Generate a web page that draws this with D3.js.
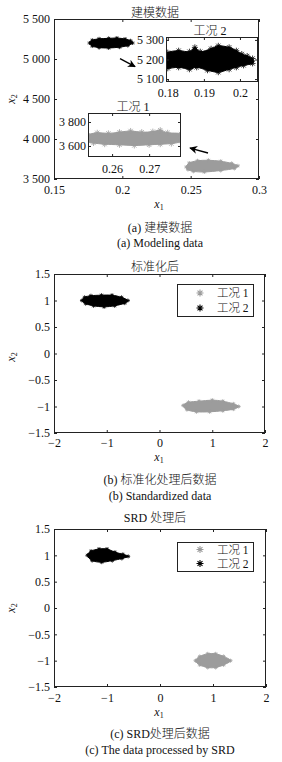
<!DOCTYPE html>
<html>
<head>
<meta charset="utf-8">
<script src="https://cdn.jsdelivr.net/npm/d3@7"></script>
<style>
  body { margin: 0; background: #fff; }
  text { font-family: "Liberation Serif", "Noto Sans CJK SC", serif; fill: #111; }
  .cjk { font-weight: 300; }
</style>
</head>
<body>
<script>
// tick values
var xTicksA = [0.15, 0.2, 0.25, 0.3];
var yTicksA = [3500, 4000, 4500, 5000, 5500];
var xTicksZoom2 = [0.18, 0.19, 0.2];
var yTicksZoom2 = [5100, 5200, 5300];
var xTicksZoom1 = [0.26, 0.27];
var yTicksZoom1 = [3600, 3800];
var xTicksStd = [-2, -1, 0, 1, 2];
var yTicksStd = [-1.5, -1, -0.5, 0, 0.5, 1, 1.5];

var legendLabels = ["工况 1", "工况 2"];

// cluster outlines [x1, x2]
var case2Raw = [[0.176, 5200], [0.178, 5235], [0.183, 5252], [0.19, 5258], [0.196, 5262], [0.202, 5250],
  [0.206, 5228], [0.2075, 5200], [0.204, 5168], [0.198, 5148], [0.19, 5138], [0.183, 5142], [0.178, 5162]];
var case1Raw = [[0.2468, 3650], [0.249, 3700], [0.255, 3728], [0.263, 3734], [0.272, 3722], [0.28, 3695],
  [0.2845, 3665], [0.282, 3632], [0.272, 3606], [0.26, 3588], [0.252, 3596], [0.248, 3618]];

var case2Zoom = [[0.1797, 5200], [0.180, 5235], [0.183, 5245], [0.186, 5240], [0.1875, 5262], [0.189, 5240],
  [0.192, 5255], [0.194, 5270], [0.197, 5262], [0.199, 5245], [0.2005, 5228], [0.202, 5218], [0.2035, 5205],
  [0.2035, 5180], [0.201, 5170], [0.199, 5160], [0.197, 5150], [0.194, 5135], [0.191, 5145], [0.188, 5160],
  [0.186, 5150], [0.183, 5160], [0.180, 5155], [0.1797, 5170]];
var case1Zoom = [[0.2535, 3690], [0.256, 3710], [0.259, 3705], [0.262, 3715], [0.265, 3725], [0.268, 3715],
  [0.271, 3720], [0.273, 3732], [0.275, 3710], [0.2786, 3700], [0.2786, 3640], [0.276, 3620], [0.273, 3615],
  [0.27, 3610], [0.266, 3604], [0.262, 3610], [0.258, 3615], [0.255, 3625], [0.2535, 3640]];

var case2Std = [[-1.47, 1.0], [-1.42, 1.06], [-1.3, 1.09], [-1.1, 1.1], [-0.9, 1.1], [-0.72, 1.06], [-0.6, 1.0],
  [-0.66, 0.95], [-0.85, 0.9], [-1.05, 0.88], [-1.25, 0.9], [-1.4, 0.94]];
var case1Std = [[0.45, -0.98], [0.55, -0.92], [0.75, -0.9], [1.0, -0.88], [1.2, -0.9], [1.4, -0.95], [1.5, -1.0],
  [1.4, -1.05], [1.2, -1.08], [0.95, -1.1], [0.7, -1.1], [0.52, -1.06]];

var case2Srd = [[-1.37, 1.0], [-1.3, 1.08], [-1.15, 1.12], [-1.0, 1.12], [-0.85, 1.06], [-0.7, 1.02], [-0.6, 0.98],
  [-0.72, 0.94], [-0.9, 0.9], [-1.1, 0.87], [-1.28, 0.9]];
var case1Srd = [[0.67, -1.0], [0.75, -0.92], [0.9, -0.87], [1.05, -0.87], [1.2, -0.92], [1.33, -1.0], [1.2, -1.08],
  [1.05, -1.13], [0.9, -1.13], [0.75, -1.08]];

// arrows in panel (a): [from, to]
var arrowsA = [[[0.1983, 5004], [0.2093, 4904]], [[0.2627, 3825], [0.2495, 3887]]];

var GRAY = "#9c9c9c";
var FONT = "'Liberation Serif', 'Noto Sans CJK SC', serif";

var svg = d3.select("body").append("svg")
    .attr("width", 282)
    .attr("height", 762);

svg.append("defs").append("marker")
    .attr("id", "head")
    .attr("viewBox", "0 0 10 10")
    .attr("refX", 9).attr("refY", 5)
    .attr("markerWidth", 8).attr("markerHeight", 8)
    .attr("markerUnits", "userSpaceOnUse")
    .attr("orient", "auto")
    .append("path")
    .attr("d", "M0,0 L10,5 L0,10 L3,5 Z")
    .attr("fill", "#000");

function asterisk(r) {
    var d = "";
    for (var i = 0; i < 4; i++) {
        var a = i * Math.PI / 4;
        var dx = r * Math.cos(a), dy = r * Math.sin(a);
        d += "M" + (-dx) + "," + (-dy) + "L" + dx + "," + dy;
    }
    return d;
}

var fmtK = function (d) { return d3.format(",")(d).replace(",", " "); };
var fmtN = d3.format("");

function axes(g, x, y, o) {
    g.append("g")
        .attr("transform", "translate(0," + o.bottom + ")")
        .call(d3.axisBottom(x).tickValues(o.xTicks).tickSizeInner(-3).tickSizeOuter(0)
            .tickPadding(o.xPad).tickFormat(fmtN));
    g.append("g")
        .attr("transform", "translate(0," + o.top + ")")
        .call(d3.axisTop(x).tickValues(o.xTicks).tickSizeInner(-3).tickSizeOuter(0).tickFormat(""));
    g.append("g")
        .attr("transform", "translate(" + o.left + ",0)")
        .call(d3.axisLeft(y).tickValues(o.yTicks).tickSizeInner(-3).tickSizeOuter(0)
            .tickPadding(o.yPad).tickFormat(o.yFmt || fmtN));
    g.append("g")
        .attr("transform", "translate(" + o.right + ",0)")
        .call(d3.axisRight(y).tickValues(o.yTicks).tickSizeInner(-3).tickSizeOuter(0).tickFormat(""));
    g.selectAll(".domain").remove();
    g.selectAll("g").attr("font-family", FONT).attr("font-size", 12);
    g.selectAll(".tick line").attr("stroke", "#222");
    g.selectAll(".tick text").attr("fill", "#111");
    g.append("rect")
        .attr("x", o.left + 0.5).attr("y", o.top + 0.5)
        .attr("width", o.right - o.left - 1).attr("height", o.bottom - o.top - 1)
        .attr("fill", "none").attr("stroke", "#222");
}

function cluster(g, pts, x, y, color, r) {
    g.append("path")
        .datum(pts)
        .attr("d", d3.line().x(function (d) { return x(d[0]); }).y(function (d) { return y(d[1]); })
            .curve(d3.curveCardinalClosed))
        .attr("fill", color)
        .attr("stroke", color)
        .attr("stroke-width", 1);
    g.selectAll(null)
        .data(pts)
        .enter()
        .append("path")
        .attr("transform", function (d) { return "translate(" + x(d[0]) + "," + y(d[1]) + ")"; })
        .attr("d", asterisk(r))
        .attr("stroke", color)
        .attr("stroke-width", 0.8);
}

function label(txt, xp, yp, anchor, cls) {
    return svg.append("text")
        .attr("x", xp).attr("y", yp)
        .attr("text-anchor", anchor || "middle")
        .attr("font-size", 12)
        .attr("class", cls || null)
        .text(txt);
}

function varLabel(xp, yp, sub, rotate) {
    var t = svg.append("text")
        .attr("font-size", 12)
        .attr("text-anchor", "middle")
        .attr("transform", "translate(" + xp + "," + yp + ")" + (rotate ? " rotate(-90)" : ""));
    t.append("tspan").attr("font-style", "italic").text("x");
    t.append("tspan").attr("font-size", 8).attr("dy", 2).text(sub);
}

var clipId = 0;
function panel(o) {
    var x = d3.scaleLinear().domain(o.xDom).range([o.left, o.right]);
    var y = d3.scaleLinear().domain(o.yDom).range([o.bottom, o.top]);
    var g = svg.append("g");
    var id = "clip" + (clipId++);
    svg.append("clipPath").attr("id", id).append("rect")
        .attr("x", o.left).attr("y", o.top)
        .attr("width", o.right - o.left).attr("height", o.bottom - o.top);
    if (o.bg) {
        g.append("rect").attr("x", o.left).attr("y", o.top)
            .attr("width", o.right - o.left).attr("height", o.bottom - o.top).attr("fill", "#fff");
    }
    var marks = g.append("g").attr("clip-path", "url(#" + id + ")");
    o.series.forEach(function (s) { cluster(marks, s.pts, x, y, s.color, s.r || 2.5); });
    axes(g, x, y, o);
    return {x: x, y: y, g: g};
}

function legend(left, top, w, h, rows) {
    svg.append("rect")
        .attr("x", left + 0.5).attr("y", top + 0.5)
        .attr("width", w).attr("height", h)
        .attr("fill", "#fff").attr("stroke", "#222");
    rows.forEach(function (r, i) {
        var cy = top + r.dy;
        svg.append("path")
            .attr("transform", "translate(" + (left + 23) + "," + cy + ")")
            .attr("d", asterisk(3.5))
            .attr("stroke", r.color).attr("stroke-width", 1.1);
        label(legendLabels[i], left + 40, cy + 4, "start", "cjk").attr("font-size", 11.5);
    });
}

// ---------- (a) modeling data ----------
var pa = panel({
    left: 54, right: 259, top: 19, bottom: 179,
    xDom: [0.15, 0.3], yDom: [3500, 5500],
    xTicks: xTicksA, yTicks: yTicksA, xPad: 6, yPad: 4, yFmt: fmtK,
    series: [{pts: case2Raw, color: "#000", r: 2}, {pts: case1Raw, color: GRAY, r: 2}]
});

arrowsA.forEach(function (a) {
    svg.append("line")
        .attr("x1", pa.x(a[0][0])).attr("y1", pa.y(a[0][1]))
        .attr("x2", pa.x(a[1][0])).attr("y2", pa.y(a[1][1]))
        .attr("stroke", "#000").attr("stroke-width", 1.3)
        .attr("marker-end", "url(#head)");
});

panel({
    left: 166, right: 258, top: 37, bottom: 82, bg: true,
    xDom: [0.1795, 0.205], yDom: [5085, 5315],
    xTicks: xTicksZoom2, yTicks: yTicksZoom2, xPad: 6.5, yPad: 2, yFmt: fmtK,
    series: [{pts: case2Zoom, color: "#000", r: 3}]
});
panel({
    left: 88, right: 181, top: 113, bottom: 157, bg: true,
    xDom: [0.2535, 0.2786], yDom: [3508, 3875],
    xTicks: xTicksZoom1, yTicks: yTicksZoom1, xPad: 7.5, yPad: 2, yFmt: fmtK,
    series: [{pts: case1Zoom, color: GRAY, r: 3}]
});

label("建模数据", 155, 17, "middle", "cjk");
label("工况 2", 210, 35, "middle", "cjk");
label("工况 1", 133, 111, "middle", "cjk");
varLabel(15, 99, "2", true);
varLabel(159, 208, "1");
label("(a) 建模数据", 160, 232, "middle", "cjk");
label("(a) Modeling data", 160, 247);

// ---------- (b) standardized ----------
panel({
    left: 54, right: 265, top: 274, bottom: 433,
    xDom: [-2, 2], yDom: [-1.5, 1.5],
    xTicks: xTicksStd, yTicks: yTicksStd, xPad: 5, yPad: 4,
    series: [{pts: case2Std, color: "#000", r: 2}, {pts: case1Std, color: GRAY, r: 2}]
});
legend(177, 284, 76, 32, [{color: GRAY, dy: 9}, {color: "#000", dy: 24}]);
label("标准化后", 155, 271, "middle", "cjk");
varLabel(15, 357, "2", true);
varLabel(159, 461, "1");
label("(b) 标准化处理后数据", 160, 484, "middle", "cjk");
label("(b) Standardized data", 160, 500);

// ---------- (c) SRD ----------
panel({
    left: 54, right: 266, top: 529, bottom: 687,
    xDom: [-2, 2], yDom: [-1.5, 1.5],
    xTicks: xTicksStd, yTicks: yTicksStd, xPad: 6, yPad: 4,
    series: [{pts: case2Srd, color: "#000", r: 2}, {pts: case1Srd, color: GRAY, r: 2}]
});
legend(177, 542, 76, 29, [{color: GRAY, dy: 7.5}, {color: "#000", dy: 21.5}]);
label("SRD 处理后", 155, 522, "middle", "cjk");
varLabel(15, 608, "2", true);
varLabel(159, 716, "1");
label("(c) SRD处理后数据", 160, 738, "middle", "cjk");
label("(c) The data processed by SRD", 160, 754);
</script>
</body>
</html>
